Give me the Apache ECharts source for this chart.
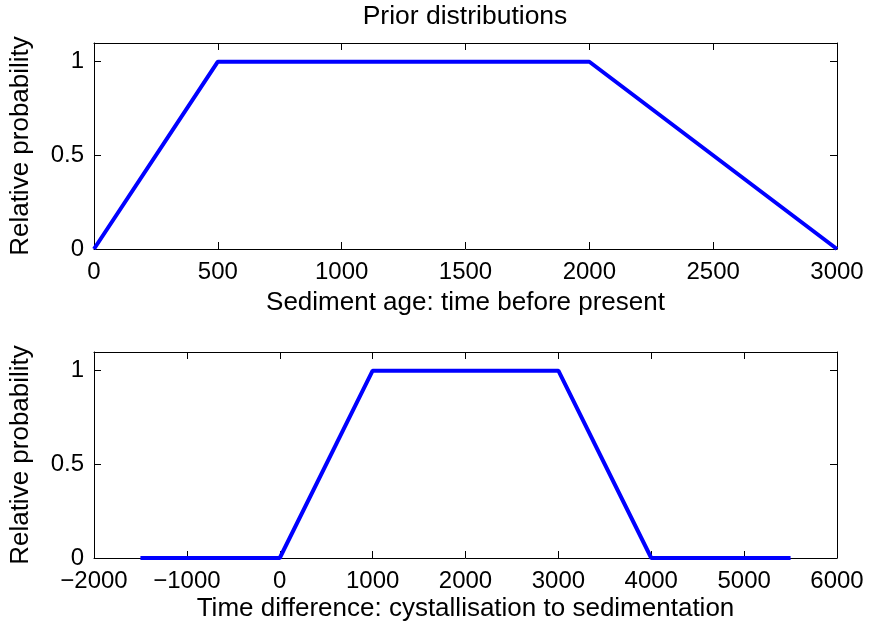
<!DOCTYPE html>
<html>
<head>
<meta charset="utf-8">
<script src="https://cdn.jsdelivr.net/npm/echarts@6/dist/echarts.min.js"></script>
<style>
  html, body { margin: 0; padding: 0; background: #fff; }
  #main { width: 871px; height: 633px; }
</style>
</head>
<body>
<div id="main"></div>
<script>
// top plot: sediment age prior
const ageX = [0, 500, 2000, 3000];
const ageY = [0, 1, 1, 0];
// bottom plot: time difference prior
const diffX = [-1500, 0, 1000, 3000, 4000, 5500];
const diffY = [0, 0, 1, 1, 0, 0];

const yTicks = [0, 0.5, 1];

const FONT = 'Liberation Sans, Arial, Helvetica, sans-serif';
const TICK_FS = 24;
const NAME_FS = 26;

function zip(xs, ys) {
    return xs.map((x, i) => [x, ys[i]]);
}

function minus(v) {
    return String(v).replace('-', '\u2212');
}

let chart = echarts.init(document.getElementById('main'));

function xAxisPair(gridIndex, min, max, interval, name, nameGap) {
    return [
        {
            type: 'value', gridIndex: gridIndex, min: min, max: max, interval: interval,
            position: 'bottom',
            name: name, nameLocation: 'middle', nameGap: nameGap,
            nameTextStyle: { color: '#000', fontSize: NAME_FS, fontFamily: FONT },
            axisLine: { show: true, onZero: false, lineStyle: { color: '#000', width: 1 } },
            axisTick: { show: true, inside: true, length: 7, lineStyle: { color: '#000' } },
            axisLabel: { color: '#000', fontSize: TICK_FS, fontFamily: FONT, margin: 11, formatter: minus },
            splitLine: { show: false }
        },
        {
            type: 'value', gridIndex: gridIndex, min: min, max: max, interval: interval,
            position: 'top',
            axisLine: { show: true, onZero: false, lineStyle: { color: '#000', width: 1 } },
            axisTick: { show: true, inside: true, length: 7, lineStyle: { color: '#000' } },
            axisLabel: { show: false },
            splitLine: { show: false }
        }
    ];
}

function yAxisPair(gridIndex) {
    return [
        {
            type: 'value', gridIndex: gridIndex, min: 0, max: 1.1, interval: 0.5,
            position: 'left',
            name: 'Relative probability', nameLocation: 'middle', nameGap: 60,
            nameTextStyle: { color: '#000', fontSize: NAME_FS, fontFamily: FONT },
            axisLine: { show: true, onZero: false, lineStyle: { color: '#000', width: 1 } },
            axisTick: { show: true, inside: true, length: 7, lineStyle: { color: '#000' } },
            axisLabel: {
                color: '#000', fontSize: TICK_FS, fontFamily: FONT, margin: 10,
                showMaxLabel: false,
                formatter: (v) => yTicks.indexOf(v) >= 0 ? String(v) : ''
            },
            splitLine: { show: false }
        },
        {
            type: 'value', gridIndex: gridIndex, min: 0, max: 1.1, interval: 0.5,
            position: 'right',
            axisLine: { show: true, onZero: false, lineStyle: { color: '#000', width: 1 } },
            axisTick: { show: true, inside: true, length: 7, lineStyle: { color: '#000' } },
            axisLabel: { show: false },
            splitLine: { show: false }
        }
    ];
}

let option = {
    animation: false,
    backgroundColor: '#fff',
    title: {
        text: 'Prior distributions',
        left: 460, top: -2, textAlign: 'center',
        textStyle: { color: '#000', fontSize: 26.5, fontWeight: 'normal', fontFamily: FONT }
    },
    grid: [
        { left: 93, right: 34, top: 43, height: 206 },
        { left: 93, right: 34, top: 352, height: 206 }
    ],
    xAxis: [].concat(
        xAxisPair(0, 0, 3000, 500, 'Sediment age: time before present', 41),
        xAxisPair(1, -2000, 6000, 1000, 'Time difference: cystallisation to sedimentation', 38)
    ),
    yAxis: [].concat(yAxisPair(0), yAxisPair(1)),
    series: [
        {
            type: 'line', xAxisIndex: 0, yAxisIndex: 0,
            data: zip(ageX, ageY),
            showSymbol: false, clip: false, silent: true,
            lineStyle: { color: '#0000ff', width: 4 }
        },
        {
            type: 'line', xAxisIndex: 2, yAxisIndex: 2,
            data: zip(diffX, diffY),
            showSymbol: false, clip: false, silent: true,
            lineStyle: { color: '#0000ff', width: 4 }
        }
    ]
};
chart.setOption(option);
</script>
</body>
</html>
